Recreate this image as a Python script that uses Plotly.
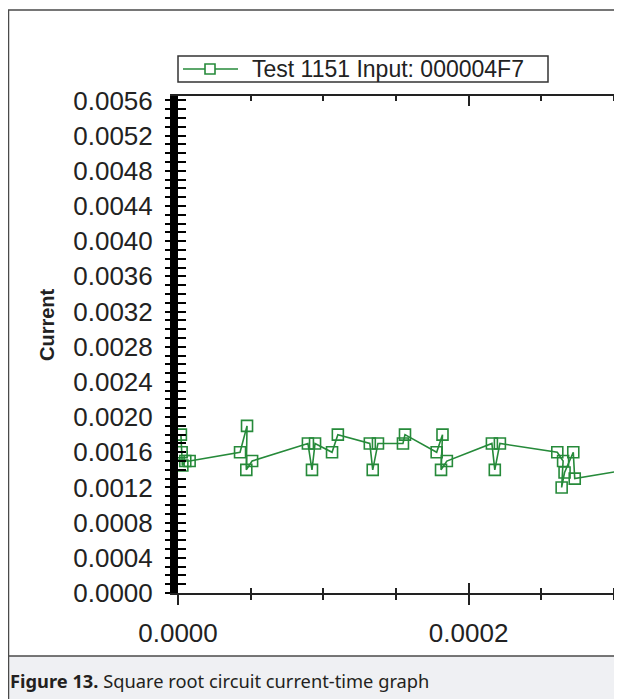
import plotly.graph_objects as go

# ---- data ----
series_name = "Test 1151 Input: 000004F7"
time_s = [
    2.0e-6, 2.5e-6, 3.0e-6, 5.0e-6, 8.0e-6,
    4.27e-5, 4.75e-5, 4.70e-5, 5.10e-5,
    8.94e-5, 9.22e-5, 9.43e-5,
    1.06e-4, 1.10e-4,
    1.32e-4, 1.34e-4, 1.376e-4,
    1.548e-4, 1.562e-4,
    1.78e-4, 1.82e-4, 1.81e-4, 1.85e-4,
    2.16e-4, 2.18e-4, 2.215e-4,
    2.61e-4, 2.65e-4, 2.64e-4, 2.66e-4, 2.72e-4, 2.73e-4,
    3.05e-4,
]
current_a = [
    0.0018, 0.0016, 0.00145, 0.0015, 0.0015,
    0.0016, 0.0019, 0.0014, 0.0015,
    0.0017, 0.0014, 0.0017,
    0.0016, 0.0018,
    0.0017, 0.0014, 0.0017,
    0.0017, 0.0018,
    0.0016, 0.0018, 0.0014, 0.0015,
    0.0017, 0.0014, 0.0017,
    0.0016, 0.0015, 0.0012, 0.00137, 0.0016, 0.0013,
    0.00139,
]
y_tick_vals = [0.0000, 0.0004, 0.0008, 0.0012, 0.0016, 0.0020, 0.0024, 0.0028,
               0.0032, 0.0036, 0.0040, 0.0044, 0.0048, 0.0052, 0.0056]
y_tick_text = ["0.0000", "0.0004", "0.0008", "0.0012", "0.0016", "0.0020", "0.0024",
               "0.0028", "0.0032", "0.0036", "0.0040", "0.0044", "0.0048", "0.0052", "0.0056"]
x_tick_vals = [0.0, 0.0002]
x_tick_text = ["0.0000", "0.0002"]
y_title = "Current"
caption_bold = "Figure 13."
caption_rest = " Square root circuit current-time graph"

# ---- layout geometry (page body adds an 8px margin) ----
OFF = 8
W, H = 622, 699
L, R, T, B = 170, 14, 88, 114
PW, PH = W - L - R, H - T - B
X_RANGE = [0, 3.014e-4]
Y_RANGE = [0, 0.00565]


def px(x_screen):
    return (x_screen - OFF - L) / PW


def py(y_screen):
    return (H - B - (y_screen - OFF)) / PH


GREEN = "rgb(38,138,58)"
INK = "#222222"
FONT = "Liberation Sans, Arial, sans-serif"

fig = go.Figure()
fig.add_trace(go.Scatter(
    x=time_s, y=current_a, name=series_name, mode="lines+markers",
    line=dict(color=GREEN, width=1.6), showlegend=False,
    marker=dict(symbol="square-open", size=11, color=GREEN, line=dict(width=1.6, color=GREEN)),
))
# helper trace so the overlay axes (crossing ticks) get drawn
fig.add_trace(go.Scatter(x=[time_s[0]], y=[current_a[0]], xaxis="x2", yaxis="y2",
                         mode="none", showlegend=False, hoverinfo="skip"))

fig.update_layout(
    width=W, height=H,
    margin=dict(l=L, r=R, t=T, b=B, autoexpand=False),
    paper_bgcolor="white", plot_bgcolor="white",
    font=dict(family=FONT, color=INK),
    showlegend=False,
    xaxis=dict(
        range=X_RANGE, tickvals=x_tick_vals, ticktext=x_tick_text,
        ticks="outside", ticklen=10, tickwidth=1.5, tickcolor=INK,
        minor=dict(dtick=0.00005, tick0=0, ticks="outside", ticklen=5, tickwidth=1.5, tickcolor=INK),
        showline=True, linecolor=INK, linewidth=1.5,
        showgrid=False, zeroline=False, automargin=False, tickangle=0,
        tickfont=dict(family=FONT, size=26, color=INK),
        ticklabelstandoff=6,
    ),
    xaxis2=dict(
        overlaying="x", anchor="y2", side="bottom", range=X_RANGE,
        tickvals=x_tick_vals, ticks="inside", ticklen=10, tickwidth=1.5, tickcolor=INK,
        minor=dict(dtick=0.00005, tick0=0, ticks="inside", ticklen=5, tickwidth=1.5, tickcolor=INK),
        showticklabels=False, showline=True, linecolor=INK, linewidth=1.5, mirror="ticks",
        showgrid=False, zeroline=False, automargin=False,
    ),
    yaxis=dict(
        range=Y_RANGE, tickvals=y_tick_vals, ticktext=y_tick_text,
        ticks="outside", ticklen=5, tickwidth=1.8, tickcolor="black",
        minor=dict(dtick=0.0001, tick0=0, ticks="outside", ticklen=5, tickwidth=1.8, tickcolor="black"),
        showline=True, linecolor="black", linewidth=8,
        showgrid=False, zeroline=False, automargin=False,
        tickfont=dict(family=FONT, size=26, color=INK),
        ticklabelstandoff=7,
    ),
    yaxis2=dict(
        overlaying="y", anchor="x2", side="left", range=Y_RANGE,
        tickvals=y_tick_vals, ticks="inside", ticklen=8, tickwidth=1.8, tickcolor="black",
        minor=dict(dtick=0.0001, tick0=0, ticks="inside", ticklen=8, tickwidth=1.8, tickcolor="black"),
        showticklabels=False, showline=False, showgrid=False, zeroline=False, automargin=False,
    ),
)

# y-axis title
fig.add_annotation(
    xref="paper", yref="paper", x=px(47), y=py(325), xanchor="center", yanchor="middle",
    text="<b>" + y_title + "</b>", textangle=-90, showarrow=False,
    font=dict(family=FONT, size=20, color=INK),
)

# legend box (drawn to match the reference's compact box)
fig.add_shape(type="rect", xref="paper", yref="paper",
              x0=px(178), x1=px(548), y0=py(82), y1=py(56),
              fillcolor="white", line=dict(color="#333333", width=1.5))
fig.add_shape(type="line", xref="paper", yref="paper",
              x0=px(183), x1=px(238), y0=py(69), y1=py(69),
              line=dict(color=GREEN, width=1.6))
fig.add_shape(type="rect", xref="paper", yref="paper",
              x0=px(205), x1=px(215), y0=py(74), y1=py(64),
              fillcolor="white", line=dict(color=GREEN, width=1.6))
fig.add_annotation(
    xref="paper", yref="paper", x=px(250), y=py(69), xanchor="left", yanchor="middle",
    text=series_name, showarrow=False,
    font=dict(family=FONT, size=23, color=INK),
)

# frame, caption band and caption text
fig.add_shape(type="rect", xref="paper", yref="paper",
              x0=px(8.5), x1=px(650), y0=py(656), y1=py(720),
              fillcolor="#eff0f3", line=dict(width=0), layer="below")
fig.add_shape(type="rect", xref="paper", yref="paper",
              x0=px(8.5), x1=px(650), y0=py(720), y1=py(10),
              fillcolor="rgba(0,0,0,0)", line=dict(color="#4a4a4a", width=1.5))
fig.add_shape(type="line", xref="paper", yref="paper",
              x0=px(8.5), x1=px(650), y0=py(656), y1=py(656),
              line=dict(color="#4a4a4a", width=1.5))
fig.add_annotation(
    xref="paper", yref="paper", x=px(8), y=py(680), xanchor="left", yanchor="middle",
    text="<b>" + caption_bold + "</b>" + caption_rest, showarrow=False,
    font=dict(family="Noto Sans, Open Sans, sans-serif", size=18.3, color="#231f20"),
)

fig.write_html("out.html")
